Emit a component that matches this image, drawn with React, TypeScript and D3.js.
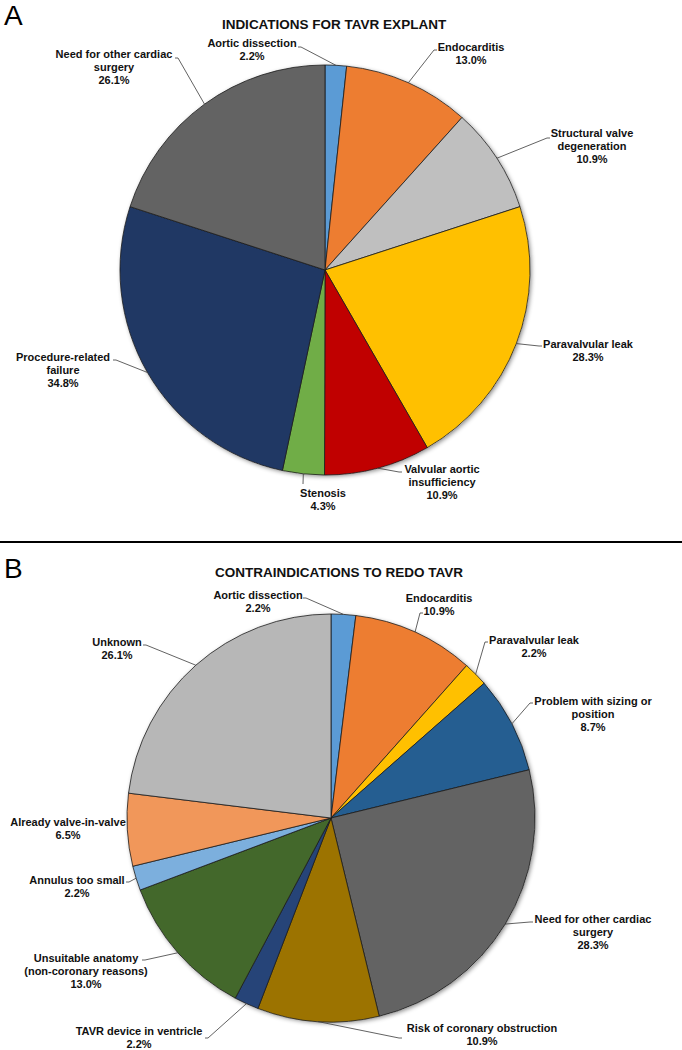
import React from "react";
import * as d3 from "d3";

// ---------- DATA ----------
const catA = [
  "Aortic dissection",
  "Endocarditis",
  "Structural valve degeneration",
  "Paravalvular leak",
  "Valvular aortic insufficiency",
  "Stenosis",
  "Procedure-related failure",
  "Need for other cardiac surgery",
];
const valA = [2.2, 13.0, 10.9, 28.3, 10.9, 4.3, 34.8, 26.1];
const colA = ["#5B9BD5", "#ED7D31", "#BFBFBF", "#FFC000", "#C00000", "#70AD47", "#203864", "#636363"];
const linesA = [
  ["Aortic dissection"],
  ["Endocarditis"],
  ["Structural valve", "degeneration"],
  ["Paravalvular leak"],
  ["Valvular aortic", "insufficiency"],
  ["Stenosis"],
  ["Procedure-related", "failure"],
  ["Need for other cardiac", "surgery"],
];

const catB = [
  "Aortic dissection",
  "Endocarditis",
  "Paravalvular leak",
  "Problem with sizing or position",
  "Need for other cardiac surgery",
  "Risk of coronary obstruction",
  "TAVR device in ventricle",
  "Unsuitable anatomy (non-coronary reasons)",
  "Annulus too small",
  "Already valve-in-valve",
  "Unknown",
];
const valB = [2.2, 10.9, 2.2, 8.7, 28.3, 10.9, 2.2, 13.0, 2.2, 6.5, 26.1];
const colB = ["#5B9BD5", "#ED7D31", "#FFC000", "#255E91", "#636363", "#9C7300", "#264478", "#43682B", "#7CAFDD", "#F1975A", "#B7B7B7"];
const linesB = [
  ["Aortic dissection"],
  ["Endocarditis"],
  ["Paravalvular leak"],
  ["Problem with sizing or", "position"],
  ["Need for other cardiac", "surgery"],
  ["Risk of coronary obstruction"],
  ["TAVR device in ventricle"],
  ["Unsuitable anatomy", "(non-coronary reasons)"],
  ["Annulus too small"],
  ["Already valve-in-valve"],
  ["Unknown"],
];

// ---------- LAYOUT ----------
type Lab = { cx: number; y: number; ax?: number; ay?: number };
const layoutA: Lab[] = [
  { cx: 252, y: 47, ax: 298, ay: 47 },
  { cx: 471, y: 51, ax: 437, ay: 50 },
  { cx: 592, y: 137, ax: 550, ay: 138 },
  { cx: 588, y: 348, ax: 542, ay: 346 },
  { cx: 442, y: 473, ax: 402, ay: 472 },
  { cx: 323, y: 497, ax: 303, ay: 484 },
  { cx: 63, y: 361, ax: 113, ay: 360 },
  { cx: 114, y: 58, ax: 175, ay: 58 },
];
const layoutB: Lab[] = [
  { cx: 258, y: 599, ax: 303, ay: 598 },
  { cx: 439, y: 602, ax: 423, ay: 613 },
  { cx: 534, y: 644, ax: 488, ay: 642 },
  { cx: 593, y: 705, ax: 533, ay: 703 },
  { cx: 593, y: 923, ax: 533, ay: 922 },
  { cx: 482, y: 1032, ax: 402, ay: 1038 },
  { cx: 139, y: 1035, ax: 205, ay: 1038 },
  { cx: 86, y: 962, ax: 142, ay: 960 },
  { cx: 77, y: 884, ax: 126, ay: 882 },
  { cx: 68, y: 826 },
  { cx: 117, y: 646, ax: 143, ay: 645 },
];

const FONT = "'Liberation Sans', Arial, Helvetica, sans-serif";

function Pie({
  cx, cy, r, values, colors, lines, layout,
}: {
  cx: number; cy: number; r: number; values: number[]; colors: string[]; lines: string[][]; layout: Lab[];
}) {
  const pie = d3.pie<number>().sort(null).value((d) => d);
  const arcs = pie(values);
  const arc = d3.arc<d3.PieArcDatum<number>>().innerRadius(0).outerRadius(r);
  const edge = d3.arc<d3.PieArcDatum<number>>().innerRadius(r).outerRadius(r);
  return (
    <g>
      <circle cx={cx} cy={cy} r={r} fill="#fff" filter="url(#shadow)" />
      <g transform={`translate(${cx},${cy})`}>
        {arcs.map((a, i) => (
          <path key={i} d={arc(a) || ""} fill={colors[i]} stroke="#1a1a1a" strokeWidth={0.8} strokeLinejoin="round" />
        ))}
      </g>
      {arcs.map((a, i) => {
        const L = layout[i];
        const [ex, ey] = edge.centroid(a);
        const px = cx + ex, py = cy + ey;
        const pct = values[i].toFixed(1) + "%";
        const allLines = [...lines[i], pct];
        let leader = null;
        if (L.ax !== undefined && L.ay !== undefined) {
          const dir = px > L.ax ? 1 : -1;
          const vertical = Math.abs(px - L.ax) < 4;
          const elbowX = vertical ? L.ax : L.ax + dir * 3;
          leader = (
            <polyline
              points={`${L.ax},${L.ay} ${elbowX},${L.ay} ${px},${py}`}
              fill="none"
              stroke="#3a3a3a"
              strokeWidth={0.8}
            />
          );
        }
        return (
          <g key={"l" + i}>
            {leader}
            <text x={L.cx} y={L.y} textAnchor="middle" fontFamily={FONT} fontWeight="bold" fontSize={11} fill="#111">
              {allLines.map((t, k) => (
                <tspan key={k} x={L.cx} dy={k === 0 ? 0 : 13}>{t}</tspan>
              ))}
            </text>
          </g>
        );
      })}
    </g>
  );
}

export default function App() {
  return (
    <svg width={682} height={1050} style={{ position: "absolute", left: 0, top: 0, background: "#fff" }}>
      <defs>
        <filter id="shadow" x="-20%" y="-20%" width="140%" height="140%">
          <feDropShadow dx={1.5} dy={1.5} stdDeviation={2.2} floodColor="#000" floodOpacity={0.45} />
        </filter>
      </defs>
      <rect x={0} y={0} width={682} height={1050} fill="#fff" />
      <text x={4} y={25} fontFamily={FONT} fontSize={28} fill="#000">A</text>
      <text x={334} y={29} textAnchor="middle" fontFamily={FONT} fontWeight="bold" fontSize={13.5} fill="#111">
        INDICATIONS FOR TAVR EXPLANT
      </text>
      <Pie cx={325} cy={270} r={205} values={valA} colors={colA} lines={linesA} layout={layoutA} />
      <line x1={0} x2={682} y1={542} y2={542} stroke="#000" strokeWidth={2} />
      <text x={4} y={578} fontFamily={FONT} fontSize={28} fill="#000">B</text>
      <text x={339} y={577} textAnchor="middle" fontFamily={FONT} fontWeight="bold" fontSize={13.5} fill="#111">
        CONTRAINDICATIONS TO REDO TAVR
      </text>
      <Pie cx={331} cy={818} r={204} values={valB} colors={colB} lines={linesB} layout={layoutB} />
    </svg>
  );
}
